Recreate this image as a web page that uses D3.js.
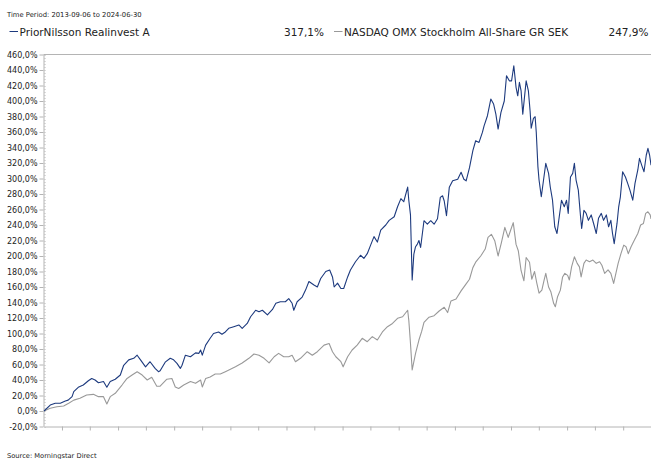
<!DOCTYPE html>
<html><head><meta charset="utf-8">
<script src="https://cdn.jsdelivr.net/npm/d3@7"></script>
<style>body{margin:0;background:#fff} svg{display:block}</style>
</head><body>
<svg id="c" width="651" height="459"></svg>
<script>
const fundName = "PriorNilsson Realinvest A";
const indexName = "NASDAQ OMX Stockholm All-Share GR SEK";
const fundTotal = 317.1;
const indexTotal = 247.9;
const periodStart = "2013-09-06";
const periodEnd = "2024-06-30";
const sourceText = "Source: Morningstar Direct";

// decimal years and cumulative return (%)
const fundYears = [2013.68,2013.79,2013.88,2013.97,2014.06,2014.11,2014.18,2014.21,2014.29,2014.38,2014.47,2014.53,2014.59,2014.65,2014.74,2014.80,2014.86,2014.95,2015.04,2015.10,2015.19,2015.28,2015.34,2015.40,2015.49,2015.57,2015.66,2015.72,2015.75,2015.84,2015.93,2015.99,2016.05,2016.11,2016.14,2016.20,2016.29,2016.38,2016.44,2016.47,2016.50,2016.56,2016.64,2016.70,2016.79,2016.85,2016.91,2016.97,2017.06,2017.15,2017.21,2017.30,2017.36,2017.45,2017.51,2017.57,2017.66,2017.75,2017.81,2017.89,2017.98,2018.04,2018.10,2018.13,2018.19,2018.28,2018.34,2018.40,2018.49,2018.55,2018.61,2018.70,2018.77,2018.82,2018.85,2018.91,2018.97,2019.02,2019.09,2019.14,2019.23,2019.32,2019.38,2019.44,2019.50,2019.56,2019.62,2019.68,2019.77,2019.83,2019.92,2019.98,2020.04,2020.09,2020.16,2020.18,2020.21,2020.24,2020.27,2020.30,2020.33,2020.36,2020.39,2020.45,2020.51,2020.57,2020.63,2020.69,2020.74,2020.78,2020.81,2020.85,2020.90,2020.96,2021.05,2021.11,2021.16,2021.20,2021.26,2021.32,2021.37,2021.43,2021.49,2021.52,2021.58,2021.64,2021.69,2021.73,2021.77,2021.82,2021.88,2021.92,2021.97,2022.01,2022.05,2022.09,2022.12,2022.15,2022.18,2022.21,2022.24,2022.27,2022.31,2022.34,2022.36,2022.40,2022.43,2022.45,2022.48,2022.50,2022.54,2022.58,2022.62,2022.67,2022.70,2022.74,2022.78,2022.82,2022.86,2022.90,2022.95,2022.99,2023.02,2023.06,2023.10,2023.13,2023.16,2023.20,2023.24,2023.26,2023.30,2023.34,2023.38,2023.43,2023.48,2023.52,2023.56,2023.61,2023.65,2023.70,2023.74,2023.78,2023.81,2023.84,2023.89,2023.92,2023.95,2023.99,2024.04,2024.08,2024.12,2024.17,2024.21,2024.26,2024.29,2024.33,2024.37,2024.41,2024.44,2024.47,2024.495];
const fundValues = [0,7.7,10,10,13,14,18.5,25,30.6,33.5,39,42,40,36.5,38,30.6,38,41,46.4,59,66,68,72,66,57,63.6,55,50.7,52,63,68,66,61.5,55,59,72,70,75,74.4,78.7,72,85,93.8,100,102,99,102,106.7,108.8,111,106.7,113,121.6,130,128,130,124,131,139,141,141,145,139,130,141,147,156,167,162.5,160,171,180,182,173,160,165,158,158,173,182,192.6,201,197,203,214,225,218,233.5,240,246,250.6,263.5,274,270,289,272,253,169,202.5,212,215,220,211,245.5,241,245.5,241,248,275.7,277.7,271,252,288.6,297,299,308,299,297,314,336,348.7,346.6,359.5,368,381,402.5,396,383,363.8,385,400,432.5,426,426,445.5,417.6,406.7,424,413,383,404.7,426,413,387.4,365,377.6,379.7,360,315,298,276.4,298,319.5,306.6,289,272,237.7,229,250.6,272,263.5,272,255,302,306.6,319.5,298,285,250.6,235.7,259,255,246,253,240,229,248.6,255,246,253,237.7,246,229,216,242,263.5,276.4,308.7,302,293.7,285,272,293.7,311,326,317,308.7,330,339,330,317.1];

const indexYears = [2013.68,2013.79,2013.91,2014.03,2014.12,2014.21,2014.32,2014.44,2014.56,2014.65,2014.74,2014.80,2014.86,2014.95,2015.07,2015.16,2015.25,2015.34,2015.43,2015.52,2015.60,2015.69,2015.75,2015.87,2015.96,2016.02,2016.08,2016.17,2016.29,2016.38,2016.47,2016.50,2016.56,2016.64,2016.73,2016.82,2016.91,2017.00,2017.09,2017.21,2017.33,2017.42,2017.51,2017.60,2017.69,2017.78,2017.86,2017.95,2018.04,2018.10,2018.16,2018.25,2018.37,2018.46,2018.55,2018.67,2018.76,2018.82,2018.88,2018.97,2019.01,2019.09,2019.17,2019.26,2019.35,2019.44,2019.53,2019.62,2019.71,2019.80,2019.89,2019.98,2020.07,2020.16,2020.18,2020.21,2020.24,2020.30,2020.36,2020.41,2020.45,2020.54,2020.63,2020.72,2020.81,2020.87,2020.93,2021.02,2021.11,2021.20,2021.26,2021.32,2021.37,2021.46,2021.54,2021.59,2021.65,2021.71,2021.77,2021.83,2021.89,2021.95,2021.99,2022.04,2022.09,2022.13,2022.18,2022.23,2022.27,2022.33,2022.37,2022.42,2022.46,2022.50,2022.55,2022.59,2022.62,2022.67,2022.71,2022.76,2022.79,2022.83,2022.88,2022.92,2022.96,2023.01,2023.04,2023.08,2023.13,2023.18,2023.22,2023.25,2023.30,2023.34,2023.40,2023.46,2023.52,2023.58,2023.62,2023.67,2023.73,2023.78,2023.83,2023.87,2023.91,2023.96,2024.01,2024.05,2024.09,2024.14,2024.20,2024.26,2024.31,2024.36,2024.40,2024.44,2024.48,2024.495];
const indexValues = [0,3.5,5.5,6.5,10,14,16.4,20.6,21.5,18.5,18.5,9,18.5,22.8,33.5,42,46.4,50.7,46.4,40,43.5,32,32,41,42,31,29,33.5,38,35.7,40,31,42,44,47.7,47.7,50.7,53.8,57,62,68,73.5,72,68,62,70,74.4,70,70,72,63.6,68,76.5,72,76.5,85,87,76.5,70,63.6,57,70,78.7,85,93.8,89.4,96,91.6,102,108.8,113,119.6,121.6,130,117,87,53,74.4,91.6,103,114.4,121,123,129,133.8,127,142,144.5,155,164,170,185,192,200,209,224,228,219.7,200,217.6,237,224,232.6,243,215,206.8,181,168,198,192,170,180,165,152,156,169,177.6,160,154,139,134.5,147.5,156,173,177.6,175,169,186,199,190.5,186,173,190.5,194.8,192.6,194.8,190.5,192.6,188,177.6,182,177.6,164.7,177.6,190.5,203,214,212,203,212,220.6,229,240,242,255,257,253,247.9];

const yTickValues = [-20,0,20,40,60,80,100,120,140,160,180,200,220,240,260,280,300,320,340,360,380,400,420,440,460];

const fundColor = "#1d3a7e", indexColor = "#999999", axisColor = "#b4b4b4", textColor = "#222";
const font = "'DejaVu Sans', Verdana, sans-serif";

const loc = d3.formatLocale({decimal: ",", thousands: " ", grouping: [3], currency: ["", ""], minus: "-"});
const pct = v => loc.format(".1f")(v) + "%";

const toDate = yr => {
  const y0 = Math.floor(yr);
  const a = Date.UTC(y0, 0, 1), b = Date.UTC(y0 + 1, 0, 1);
  return new Date(a + (yr - y0) * (b - a));
};

const svg = d3.select("#c");
const x = d3.scaleUtc().domain([new Date(periodStart), new Date(periodEnd)]).range([44, 651]);
const y = d3.scaleLinear().domain([-20, 460]).range([426.5, 54.5]);

// header
svg.append("text").attr("x", 7).attr("y", 17).attr("font-family", font).attr("font-size", 6.8)
  .attr("fill", textColor).text(`Time Period: ${periodStart} to ${periodEnd}`);

const legend = [
  {name: fundName, total: fundTotal, color: fundColor, x0: 9.5, end: 324},
  {name: indexName, total: indexTotal, color: indexColor, x0: 334, end: 648.5}
];
legend.forEach(d => {
  svg.append("line").attr("x1", d.x0).attr("x2", d.x0 + 8.5).attr("y1", 31.5).attr("y2", 31.5)
    .attr("stroke", d.color).attr("stroke-width", 1);
  svg.append("text").attr("x", d.x0 + 10).attr("y", 36).attr("font-family", font).attr("font-size", 10.5)
    .attr("fill", textColor).text(d.name);
  svg.append("text").attr("x", d.end).attr("y", 36).attr("text-anchor", "end").attr("font-family", font)
    .attr("font-size", 10.5).attr("fill", textColor).text(pct(d.total));
});

// top border
svg.append("line").attr("x1", 43.5).attr("x2", 651).attr("y1", 54.5).attr("y2", 54.5).attr("stroke", axisColor);

// minor ticks on y axis
const minor = d3.range(-20, 460.1, 4);
svg.append("g").selectAll("line").data(minor).join("line")
  .attr("x1", 44).attr("x2", 46).attr("y1", d => Math.round(y(d)) + 0.5).attr("y2", d => Math.round(y(d)) + 0.5)
  .attr("stroke", "#dcdcdc");

// y axis
const yAxis = svg.append("g").attr("transform", "translate(43.5,0)")
  .call(d3.axisLeft(y).tickValues(yTickValues).tickSize(4).tickSizeOuter(0).tickPadding(2).tickFormat(pct));
yAxis.select(".domain").attr("stroke", axisColor);
yAxis.selectAll(".tick line").attr("stroke", axisColor);
yAxis.selectAll(".tick text").attr("font-family", font).attr("font-size", 8).attr("fill", textColor);

// x axis
const xTicks = d3.utcMonth.every(6).range(new Date(periodStart), new Date(periodEnd));
const xAxis = svg.append("g").attr("transform", "translate(0,426.5)")
  .call(d3.axisBottom(x).tickValues(xTicks).tickSize(4).tickSizeOuter(0).tickFormat(""));
xAxis.select(".domain").attr("stroke", axisColor);
xAxis.selectAll(".tick line").attr("stroke", axisColor);

// lines
const line = d3.line().x(d => x(d[0])).y(d => y(d[1]));
const indexData = indexYears.map((t, i) => [toDate(t), indexValues[i]]);
const fundData = fundYears.map((t, i) => [toDate(t), fundValues[i]]);
svg.append("path").datum(indexData).attr("d", line).attr("fill", "none").attr("stroke", indexColor)
  .attr("stroke-width", 1.1).attr("stroke-linejoin", "round");
svg.append("path").datum(fundData).attr("d", line).attr("fill", "none").attr("stroke", fundColor)
  .attr("stroke-width", 1.1).attr("stroke-linejoin", "round");

// source
svg.append("text").attr("x", 7).attr("y", 458).attr("font-family", font).attr("font-size", 6.7)
  .attr("fill", textColor).text(sourceText);
</script>
</body></html>
